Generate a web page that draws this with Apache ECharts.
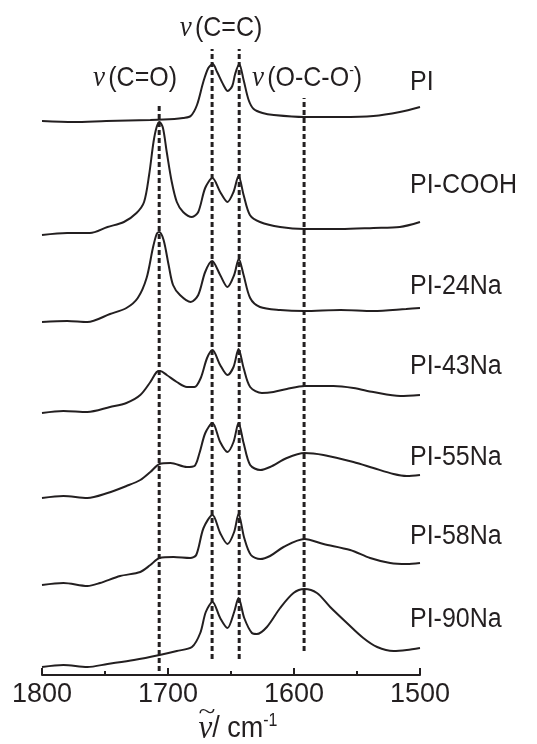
<!DOCTYPE html>
<html>
<head>
<meta charset="utf-8">
<script src="https://cdn.jsdelivr.net/npm/echarts@6/dist/echarts.min.js"></script>
<style>
  html, body { margin: 0; padding: 0; background: #fff; }
  #chart { width: 537px; height: 744px; }
</style>
</head>
<body>
<div id="chart"></div>
<script>
// FTIR spectra (stacked, arbitrary absorbance units) vs wavenumber / cm-1
const samples = ['PI', 'PI-COOH', 'PI-24Na', 'PI-43Na', 'PI-55Na', 'PI-58Na', 'PI-90Na'];

const specPI = [[1800,554],[1775,553],[1749,554],[1714,555],[1695,556],[1688,557],[1682,559],[1677,570],[1672,593],[1668,607],[1664.5,611],[1661,603],[1656,590],[1652.6,584],[1649,589],[1646.7,601],[1643.5,611],[1640,595],[1636,575],[1632,566],[1625,562],[1616,560],[1592,558],[1563,558],[1537,559],[1516,563],[1500,568]];
const specCOOH = [[1800,440],[1780,442],[1762,442],[1748,448],[1735,453],[1725,462],[1719,473],[1715,500],[1711.5,533],[1709,548],[1706.7,553],[1704,547],[1701,523],[1697,493],[1693,473],[1688,463],[1681,458],[1676,463],[1670.5,487],[1664.7,497],[1658.6,483],[1652.8,473],[1648,483],[1644,499],[1640,480],[1635,460],[1627,453],[1611,448],[1592,446],[1563,446],[1537,447],[1516,448],[1500,453]];
const spec24Na = [[1800,353],[1780,354],[1764,353],[1746,361],[1733,367],[1724,377],[1717,397],[1712,427],[1709,441],[1707,443],[1703.5,435],[1699.5,410],[1696,390],[1690.5,380],[1682,373],[1676,380],[1670.5,403],[1665,414],[1658.6,400],[1652.8,388],[1647.5,400],[1643.8,416],[1640,400],[1634.8,377],[1627,368],[1611,365],[1592,364],[1563,365],[1537,364],[1511,366],[1500,367]];
const spec43Na = [[1800,262],[1783,264],[1764,263],[1746,268],[1733,272],[1722,280],[1714,293],[1709,303],[1706.2,304],[1701,300],[1693,293],[1685,288],[1679,288],[1674,297],[1669,317],[1664.7,325],[1658.6,310],[1652.8,300],[1648,308],[1644,326],[1640,307],[1634.8,288],[1625.5,282],[1616.3,283],[1605.7,286],[1591.7,289],[1568.7,289],[1552.8,287],[1537,283],[1515.7,279],[1500,280]];
const spec55Na = [[1800,177],[1783,179],[1764,177],[1748,182],[1733,189],[1722,195],[1714,203],[1706.7,211],[1698,212],[1685,208],[1679,209],[1675,222],[1670.4,242],[1664.7,252],[1658.6,233],[1652.8,223],[1648,233],[1644,252],[1640,232],[1634.8,210],[1626.8,205],[1619,208],[1605.7,217],[1591.7,222],[1576.6,220],[1552.8,213],[1537,207],[1521,201],[1510.5,199],[1500,200]];
const spec58Na = [[1800,90],[1783,92],[1764,89],[1754,92],[1738,99],[1722,103],[1714,110],[1706.7,117],[1695.6,118],[1682.4,117],[1677.6,120],[1671.8,147],[1664.7,160],[1658.6,142],[1652.8,131],[1647.5,143],[1644,161],[1639.5,137],[1634.2,120],[1626.8,116],[1619,119],[1608.3,128],[1591.7,136],[1576.6,131],[1555.4,125],[1539.6,117],[1523.7,112],[1510.5,111],[1500,112]];
const spec90Na = [[1800,8],[1783,10],[1764,8],[1748,11],[1727,15],[1706.7,20],[1693,24],[1681,28],[1674.4,42],[1670,63],[1664.7,73],[1658.6,57],[1652.8,47],[1647.5,63],[1644,77],[1639.5,57],[1633.4,42],[1629.5,41],[1621.5,48],[1611,67],[1600.4,82],[1591.7,86],[1581.8,82],[1571.3,68],[1558,52],[1545,37],[1534,28],[1521,24],[1510.5,25],[1500,27]];
const spectra = [specPI, specCOOH, spec24Na, spec43Na, spec55Na, spec58Na, spec90Na];

// band assignments: position (cm-1) and vertical extent of the marker line
const bandPos = [1707, 1665, 1643.5, 1592];
const bandSpan = [[4, 572], [16, 626], [16, 626], [24, 577]];

const xTicks = { min: 1500, max: 1800, step: 100 };

const INK = '#231f20';
const SANS = 'Liberation Sans, Arial, Helvetica, sans-serif';
const SERIF = 'Liberation Serif, Times New Roman, serif';
const STRETCH = 1.1; // glyphs are slightly taller than wide

const chart = echarts.init(document.getElementById('chart'), null, { renderer: 'canvas' });

const series = [];
spectra.forEach((d, i) => {
  series.push({
    name: samples[i], type: 'line', data: d, showSymbol: false, smooth: 0.3,
    lineStyle: { color: INK, width: 2 }, silent: true, z: 3
  });
});
bandPos.forEach((b, i) => {
  series.push({
    type: 'line', data: [[b, bandSpan[i][0]], [b, bandSpan[i][1]]], showSymbol: false,
    lineStyle: { color: INK, width: 3, type: [5, 3] }, silent: true, z: 2
  });
});

const rich = {
  nu: { fontFamily: SERIF, fontStyle: 'italic', fontSize: 27, fill: INK },
  s: { fontFamily: SANS, fontSize: 25, fill: INK },
  sup: { fontFamily: SANS, fontSize: 14, fill: INK, verticalAlign: 'top' }
};
const richTitle = {
  nu: { fontFamily: SERIF, fontStyle: 'italic', fontSize: 31, fill: INK },
  s: { fontFamily: SANS, fontSize: 27, fill: INK },
  sup: { fontFamily: SANS, fontSize: 16, fill: INK, verticalAlign: 'top' }
};

// sample names (left edge, vertical centre)
const nameY = [82, 185, 286, 366, 457, 536, 619];
const graphics = samples.map((s, i) => ({
  type: 'text', x: 410, y: nameY[i], scaleY: STRETCH,
  style: { text: s, font: '25px ' + SANS, fill: INK, align: 'left', verticalAlign: 'middle' }
}));

const bandLabels = [
  { text: '{nu|ν} {s|(C=O)}', cx: 135, cy: 78 },
  { text: '{nu|ν} {s|(C=C)}', cx: 221, cy: 28 },
  { text: '{nu|ν} {s|(O-C-O}{sup|-}{s|)}', cx: 307, cy: 78 }
];
bandLabels.forEach(l => graphics.push({
  type: 'text', x: l.cx, y: l.cy, scaleY: STRETCH,
  style: { text: l.text, rich: rich, align: 'center', verticalAlign: 'middle', fill: INK }
}));

// axis title: wavenumber symbol with tilde accent, then unit
graphics.push({
  type: 'text', x: 238, y: 729, scaleY: STRETCH,
  style: { text: '{nu|ν}{s|/ cm}{sup|-1}', rich: richTitle, align: 'center', verticalAlign: 'middle' }
});
graphics.push({
  type: 'text', x: 207, y: 713, scaleX: 1.3,
  style: { text: '~', font: '24px ' + SERIF, fill: INK, align: 'center', verticalAlign: 'middle' }
});

chart.setOption({
  animation: false,
  backgroundColor: '#fff',
  grid: { left: 42, right: 117, top: 0, bottom: 69 },
  xAxis: {
    type: 'value', min: xTicks.min, max: xTicks.max, interval: xTicks.step, inverse: true,
    axisLine: { show: true, onZero: false, lineStyle: { color: INK, width: 2 } },
    axisTick: { show: true, inside: true, length: 7, lineStyle: { color: INK, width: 2 } },
    minorTick: { show: true, splitNumber: 2, length: 4, lineStyle: { color: INK, width: 2 } },
    axisLabel: { color: INK, fontFamily: SANS, fontSize: 27, margin: 6, formatter: v => String(v) },
    splitLine: { show: false }
  },
  yAxis: { type: 'value', min: 0, max: 675, show: false },
  series: series,
  graphic: graphics
});
</script>
</body>
</html>
